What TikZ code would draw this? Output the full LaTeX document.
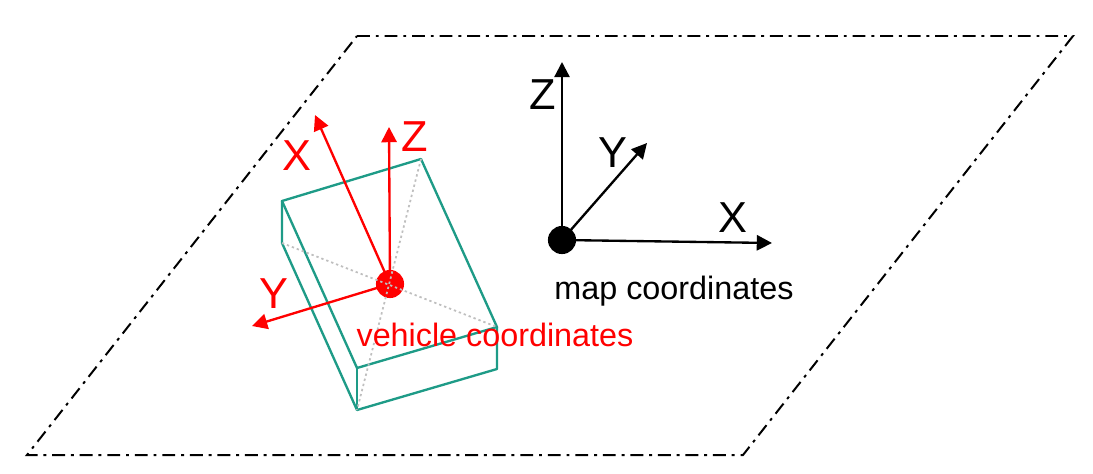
\documentclass[tikz,border=0pt]{standalone}
\usepackage{fontspec}
\setmainfont{Liberation Sans}
\usetikzlibrary{arrows.meta}
\definecolor{boxteal}{RGB}{30,155,135}

\tikzset{
  axis/.style={line width=2pt,-{Triangle[length=13pt,width=13pt]}},
  redaxis/.style={axis,red},
  plane/.style={line width=1.7pt,dash pattern=on 11pt off 5pt on 2.5pt off 5pt},
  boxedge/.style={boxteal,line width=2pt,line join=round},
  hidden/.style={gray!50,line width=1.5pt,dash pattern=on 2pt off 2.5pt},
  letter/.style={font=\fontsize{37}{37}\selectfont,inner sep=0pt},
  caption/.style={font=\fontsize{27.6}{28}\selectfont,inner sep=0pt}
}

\begin{document}
\begin{tikzpicture}[x=0.03cm,y=-0.03cm]
  \useasboundingbox (0,0) rectangle (1093,473);

  % ground plane
  \coordinate (p1) at (357,36);
  \coordinate (p2) at (1073,36);
  \coordinate (p3) at (743,455);
  \coordinate (p4) at (27,455);
  \draw[plane] (p1) -- (p2) -- (p3) -- (p4) -- cycle;

  % vehicle box
  \coordinate (a) at (282,201);
  \coordinate (b) at (421,159);
  \coordinate (c) at (497,327);
  \coordinate (d) at (357,368);
  \coordinate (e) at (282,243);
  \coordinate (f) at (357,410);
  \coordinate (g) at (497,369);
  \draw[boxedge] (a) -- (b) -- (c) -- (d) -- cycle;
  \draw[boxedge] (a) -- (e) -- (f) -- (g) -- (c);
  \draw[boxedge] (d) -- (f);

  % vehicle coordinates
  \node[circle,fill=red,minimum size=24pt,inner sep=0pt] (vo) at (390,284) {};
  \coordinate (vx) at (315,115);
  \coordinate (vy) at (252,326);
  \coordinate (vz) at (389,127);
  \draw[redaxis] (vo.center) -- (vx);
  \draw[redaxis] (vo.center) -- (vy);
  \draw[redaxis] (vo.center) -- (vz);
  \draw[hidden] (b) -- (f);
  \draw[hidden] (e) -- (c);
  \node[letter,red] (vxlabel) at (297,156) {X};
  \node[letter,red] (vylabel) at (274,294) {Y};
  \node[letter,red] (vzlabel) at (415,137) {Z};
  \node[caption,red] (vcaption) at (495,335) {vehicle coordinates};

  % map coordinates
  \node[circle,fill=black,minimum size=24pt,inner sep=0pt] (mo) at (562,240) {};
  \coordinate (mx) at (772,243);
  \coordinate (my) at (647,143);
  \coordinate (mz) at (562,62);
  \draw[axis] (mo.center) -- (mx);
  \draw[axis] (mo.center) -- (my);
  \draw[axis] (mo.center) -- (mz);
  \node[letter] (mxlabel) at (733,218) {X};
  \node[letter] (mylabel) at (613,153) {Y};
  \node[letter] (mzlabel) at (543,95) {Z};
  \node[caption] (mcaption) at (674,291) {map coordinates};
\end{tikzpicture}
\end{document}
